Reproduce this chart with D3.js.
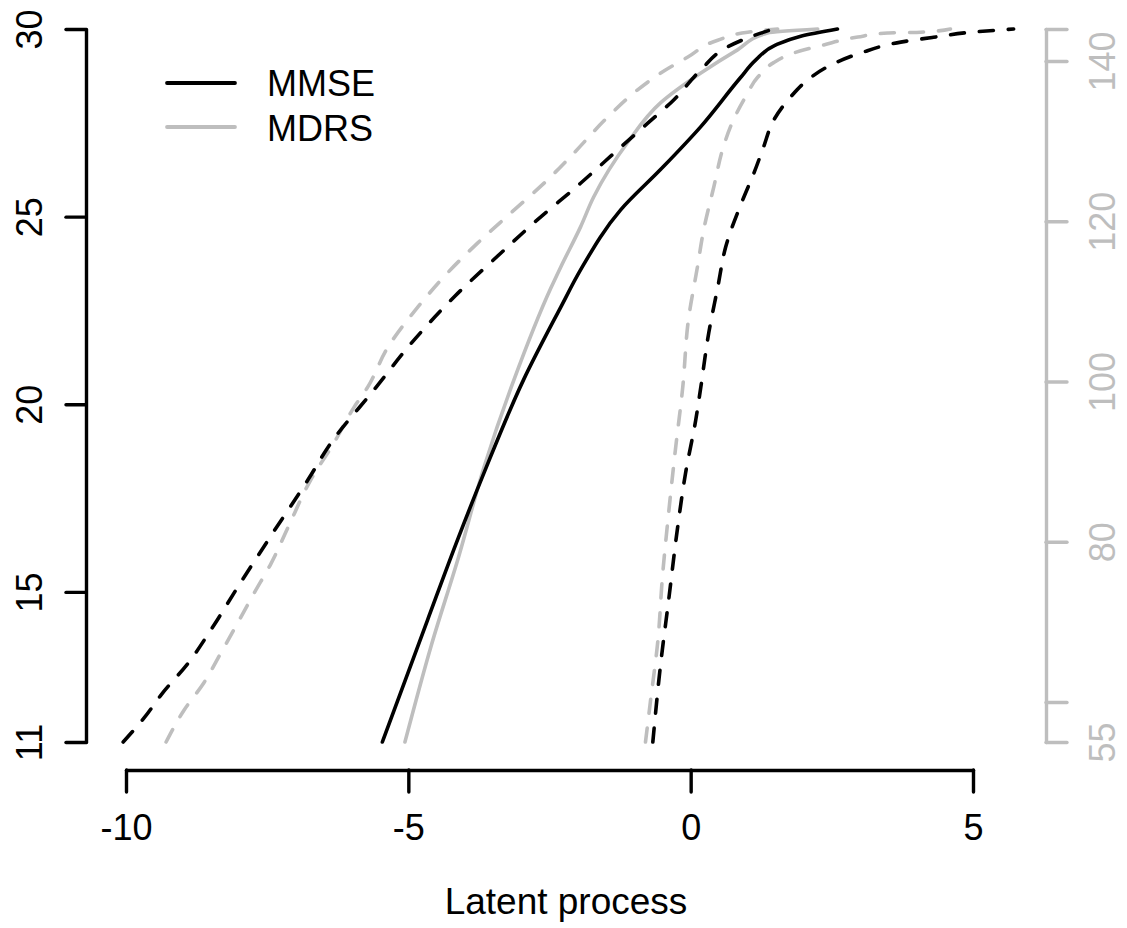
<!DOCTYPE html>
<html>
<head>
<meta charset="utf-8">
<script src="https://cdn.jsdelivr.net/npm/d3@7"></script>
<style>
  body { margin: 0; background: #fff; }
  svg text { font-family: "Liberation Sans", Arial, sans-serif; font-size: 36px; }
</style>
</head>
<body>
<main></main>
<script>
// latent process value vs score
var mmseEst = [[-5.46,11.0],[-4.66,14.25],[-4.11,16.46],[-3.66,18.17],[-2.96,20.65],[-2.30,22.59],[-1.95,23.58],[-1.24,25.18],[-0.53,26.26],[0.18,27.40],[0.88,28.70],[1.15,29.17],[1.50,29.57],[1.95,29.81],[2.60,30.0]];
var mmseLow = [[-10.05,11.0],[-9.68,11.64],[-9.35,12.31],[-8.90,13.10],[-8.50,13.98],[-8.02,15.13],[-7.40,16.57],[-6.78,17.98],[-6.37,18.97],[-5.61,20.38],[-4.90,21.71],[-4.19,22.86],[-3.36,24.03],[-2.78,24.83],[-1.95,25.89],[-1.24,26.85],[-0.76,27.49],[-0.30,28.11],[0.18,28.91],[0.65,29.52],[1.24,29.89],[1.47,30.0]];
var mmseUp = [[-0.67,11.0],[-0.53,13.10],[-0.39,14.78],[-0.23,16.73],[-0.09,18.17],[0.09,19.58],[0.18,20.46],[0.32,21.90],[0.48,23.12],[0.62,24.19],[0.92,25.44],[1.12,26.16],[1.29,26.85],[1.47,27.57],[1.77,28.19],[2.07,28.64],[2.42,28.99],[3.01,29.36],[3.72,29.65],[4.30,29.78],[5.01,29.92],[5.72,30.0]];

var mdrsEst = [[-5.06,55.0],[-4.60,66.9],[-4.11,78.1],[-3.66,89.3],[-3.13,100.2],[-2.48,111.6],[-2.30,114.3],[-1.95,119.3],[-1.72,123.0],[-1.12,129.8],[-0.53,134.8],[0.18,138.5],[0.83,141.4],[1.36,143.5],[2.25,144.0]];
var mdrsLow = [[-9.29,55.0],[-8.97,59.0],[-8.62,62.4],[-8.32,66.1],[-8.02,69.9],[-7.73,73.6],[-7.43,77.3],[-7.13,81.8],[-6.73,87.7],[-6.32,92.3],[-5.96,96.8],[-5.72,99.3],[-5.36,104.3],[-4.83,109.3],[-4.30,113.6],[-3.77,117.3],[-3.19,121.0],[-2.53,125.2],[-2.07,128.5],[-1.47,133.0],[-0.94,136.4],[-0.53,138.5],[-0.05,140.5],[0.48,142.6],[1.01,143.6],[1.54,144.0]];
var mdrsUp = [[-0.80,55.0],[-0.71,60.2],[-0.58,67.7],[-0.50,75.6],[-0.39,83.6],[-0.27,91.5],[-0.14,99.3],[-0.04,107.7],[0.12,114.3],[0.23,118.9],[0.41,124.3],[0.58,129.3],[0.76,132.7],[0.97,135.5],[1.19,138.0],[1.47,139.8],[1.82,141.0],[2.35,142.0],[2.96,143.0],[3.49,143.5],[4.07,143.6],[4.60,144.0]];

var xTicks = [-10, -5, 0, 5];
var mmseTicks = [11, 15, 20, 25, 30];
var mdrsTicks = [55, 60, 80, 100, 120, 140, 144];
var mdrsLabels = [55, 80, 100, 120, 140];
var legendNames = ["MMSE", "MDRS"];
var black = "#000000", grey = "#bebebe";

var w = 1127, h = 928;
var svg = d3.select("main").append("svg")
            .attr("width", w)
            .attr("height", h);

var x = d3.scaleLinear().domain([-10, 5]).range([126, 973]);
var yL = d3.scaleLinear().domain([11, 30]).range([742, 29]);
var yR = d3.scaleLinear().domain([55, 144]).range([742, 29]);

var lineL = d3.line().curve(d3.curveMonotoneY)
              .x(function(d){ return x(d[0]); }).y(function(d){ return yL(d[1]); });
var lineR = d3.line().curve(d3.curveMonotoneY)
              .x(function(d){ return x(d[0]); }).y(function(d){ return yR(d[1]); });

function drawCurve(data, gen, col, dashed) {
  svg.append("path")
     .attr("d", gen(data))
     .attr("fill", "none")
     .attr("stroke", col)
     .attr("stroke-width", 3.6)
     .attr("stroke-linecap", "round")
     .attr("stroke-linejoin", "round")
     .attr("stroke-dasharray", dashed ? "14,15" : null);
}
drawCurve(mdrsLow, lineR, grey, true);
drawCurve(mdrsUp, lineR, grey, true);
drawCurve(mdrsEst, lineR, grey, false);
drawCurve(mmseLow, lineL, black, true);
drawCurve(mmseUp, lineL, black, true);
drawCurve(mmseEst, lineL, black, false);

// axes
var xAxis = svg.append("g")
   .attr("transform", "translate(0,770)")
   .call(d3.axisBottom(x).tickValues(xTicks).tickSize(22).tickSizeOuter(0)
          .tickFormat(function(d){ return String(d); }));
xAxis.selectAll("text").attr("y", 70).attr("dy", 0).attr("fill", black);

var leftAxis = svg.append("g")
   .attr("transform", "translate(86,0)")
   .call(d3.axisLeft(yL).tickValues(mmseTicks).tickSize(20).tickSizeOuter(0));
leftAxis.selectAll("text")
   .attr("x", 0).attr("dy", 0)
   .attr("text-anchor", "middle")
   .attr("transform", "translate(-44,0) rotate(-90)")
   .attr("fill", black);

var rightAxis = svg.append("g")
   .attr("transform", "translate(1046,0)")
   .call(d3.axisRight(yR).tickValues(mdrsTicks).tickSize(21).tickSizeOuter(0)
          .tickFormat(function(d){ return mdrsLabels.indexOf(d) >= 0 ? String(d) : ""; }));
rightAxis.selectAll("text")
   .attr("x", 0).attr("dy", 0)
   .attr("text-anchor", "middle")
   .attr("transform", "translate(69,0) rotate(-90)")
   .attr("fill", grey);

svg.selectAll(".domain, .tick line")
   .attr("stroke-width", 3.4)
   .attr("stroke-linecap", "round");
leftAxis.selectAll(".domain, .tick line").attr("stroke", black);
xAxis.selectAll(".domain, .tick line").attr("stroke", black);
rightAxis.selectAll(".domain, .tick line").attr("stroke", grey);
svg.selectAll(".tick text").style("font-size", "36px");

svg.append("text")
   .attr("x", 566)
   .attr("y", 914)
   .attr("text-anchor", "middle")
   .style("font-size", "37px")
   .text("Latent process");

// legend
var legend = svg.append("g");
legend.selectAll("line")
      .data(legendNames)
      .enter()
      .append("line")
      .attr("x1", 167).attr("x2", 235)
      .attr("y1", function(d,i){ return 83 + i*44; })
      .attr("y2", function(d,i){ return 83 + i*44; })
      .attr("stroke", function(d,i){ return i == 0 ? black : grey; })
      .attr("stroke-width", 3.8)
      .attr("stroke-linecap", "round");
legend.selectAll("text")
      .data(legendNames)
      .enter()
      .append("text")
      .attr("x", 267)
      .attr("y", function(d,i){ return 96 + i*45; })
      .text(function(d){ return d; });
</script>
</body>
</html>
